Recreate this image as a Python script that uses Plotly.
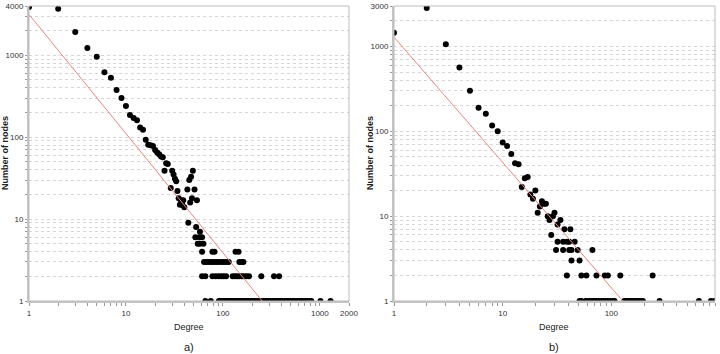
import numpy as np
import plotly.graph_objects as go

# ---------------- data ----------------
# panel a)
deg_a = [1, 2, 3, 4, 5, 6, 7, 8, 9, 10, 11, 12, 13, 14, 15, 16, 17, 18, 19, 20,
         21, 22, 23, 24, 25, 26, 27, 29, 30, 31, 32, 33, 34, 35, 36, 37, 38, 39, 40,
         43, 45, 47, 49, 46, 48, 51, 54, 44, 53, 58,
         52, 57, 61, 55, 58, 63,
         61, 78, 82, 135, 145,
         64, 68, 72, 76, 80, 85, 90, 96, 102, 108, 115, 148, 155, 163,
         61, 66, 78, 84, 90, 96, 102, 108, 126, 133, 140, 148, 156, 165, 175, 186, 249, 337, 380,
         66, 75, 91, 94, 97, 100, 104, 108, 112, 116, 121, 126, 131, 137, 143, 150, 157, 164,
         172, 180, 189, 198, 208, 218, 229, 240, 252, 265, 278, 292, 307, 322, 338, 355, 373,
         392, 412, 433, 455, 478, 502, 527, 553, 581, 610, 640, 672, 706, 741, 778, 817, 1015, 1290]
cnt_a = [3900, 3700, 1925, 1230, 960, 623, 531, 377, 301, 240, 187, 171, 161, 131, 123, 93, 81, 80, 78, 70,
         65, 62, 58, 57, 39, 48, 47, 24, 39, 35, 31, 29, 22, 18, 15, 17, 15, 17, 14,
         23, 30, 33, 39, 16, 18, 23, 17, 9, 8, 7,
         6, 6, 6, 5, 5, 5,
         4, 4, 4, 4, 4,
         3, 3, 3, 3, 3, 3, 3, 3, 3, 3, 3, 3, 3, 3,
         2, 2, 2, 2, 2, 2, 2, 2, 2, 2, 2, 2, 2, 2, 2, 2, 2, 2, 2,
         1, 1, 1, 1, 1, 1, 1, 1, 1, 1, 1, 1, 1, 1, 1, 1, 1, 1,
         1, 1, 1, 1, 1, 1, 1, 1, 1, 1, 1, 1, 1, 1, 1, 1, 1, 1, 1,
         1, 1, 1, 1, 1, 1, 1, 1, 1, 1, 1, 1, 1, 1, 1, 1, 1, 1]

# panel b)
deg_b = [1, 2, 3, 4, 5, 6, 7, 8, 9, 10, 11, 12, 13, 14, 15, 16, 17, 18, 19, 20,
         21, 22, 23, 24, 25, 26, 27, 28, 29, 30, 32, 34, 37, 42,
         32, 36, 39, 41, 46,
         31, 36, 41, 43, 49, 67,
         43, 51,
         39, 53, 59, 73, 87, 93, 121, 240,
         51, 53, 58, 61, 64, 67, 70, 73, 76, 80, 84, 88, 92, 97, 102, 107,
         132, 137, 142, 148, 155, 162, 170, 178, 187, 195, 278, 640, 826, 890]
cnt_b = [1450, 2850, 1065, 566, 301, 190, 161, 117, 100, 74, 67, 54, 42, 41, 22, 28, 29, 18, 16, 20,
         11, 13, 15, 14, 14, 10, 9, 6, 10, 11, 8, 9, 7, 7,
         5, 5, 5, 5, 5,
         4, 4, 4, 4, 4, 4,
         3, 3,
         2, 2, 2, 2, 2, 2, 2, 2,
         1, 1, 1, 1, 1, 1, 1, 1, 1, 1, 1, 1, 1, 1, 1, 1,
         1, 1, 1, 1, 1, 1, 1, 1, 1, 1, 1, 1, 1, 1]

# power-law fits  y = c * x^k
fit_a_c, fit_a_k = 3160.0, -1.455
fit_b_c, fit_b_k = 1290.0, -1.477

x_ticks_a = [1, 10, 100, 1000, 2000]
x_ticks_b = [1, 10, 100, 900]
y_ticks_a = [1, 10, 100, 1000, 4000]
y_ticks_b = [1, 10, 100, 1000, 3000]
x_max_a, y_max_a = 2000, 4000
x_max_b, y_max_b = 900, 3000

# ---------------- helpers ----------------
FONT = "Liberation Sans Narrow, Arial Narrow, Liberation Sans, Arial, sans-serif"


def log_minors(top):
    vals = []
    d = 1
    while d <= top:
        for m in range(1, 10):
            v = m * d
            if v <= top:
                vals.append(v)
        d *= 10
    return vals


def tick_spec(major, top):
    vals = sorted(set(log_minors(top)) | set(major))
    text = [str(v) if v in major else "" for v in vals]
    return vals, text


def fit_line(c, k):
    x_end = (1.0 / c) ** (1.0 / k)
    xs = np.array([1.0, x_end])
    return xs, c * xs ** k


fig = go.Figure()
fig.add_trace(go.Scatter(x=deg_a, y=cnt_a, mode="markers", xaxis="x", yaxis="y",
                         marker=dict(color="black", size=6), showlegend=False))
xa, ya = fit_line(fit_a_c, fit_a_k)
fig.add_trace(go.Scatter(x=xa, y=ya, mode="lines", xaxis="x", yaxis="y",
                         line=dict(color="#e8877f", width=1), showlegend=False))
fig.add_trace(go.Scatter(x=deg_b, y=cnt_b, mode="markers", xaxis="x2", yaxis="y2",
                         marker=dict(color="black", size=6), showlegend=False))
xb, yb = fit_line(fit_b_c, fit_b_k)
fig.add_trace(go.Scatter(x=xb, y=yb, mode="lines", xaxis="x2", yaxis="y2",
                         line=dict(color="#e8877f", width=1), showlegend=False))

W, H = 720, 354
ydom = [(H - 301) / H, (H - 6) / H]
tickfont = dict(family=FONT, size=8, color="#333333")

xva, xta = tick_spec(x_ticks_a, x_max_a)
xvb, xtb = tick_spec(x_ticks_b, x_max_b)
yva, yta = tick_spec(y_ticks_a, y_max_a)
yvb, ytb = tick_spec(y_ticks_b, y_max_b)

common_x = dict(type="log", showgrid=False, zeroline=False, ticks="outside", ticklen=3,
                tickcolor="#999999", tickfont=tickfont, showline=True, linecolor="#c4c4c4",
                linewidth=2, mirror=False, automargin=False)
common_y = dict(type="log", showgrid=True, gridcolor="#d6d6d6", griddash="dot", gridwidth=1,
                zeroline=False, ticks="outside", ticklen=2, tickcolor="#999999",
                tickfont=tickfont, showline=True, linecolor="#c4c4c4", linewidth=2,
                mirror=False, automargin=False)

fig.update_layout(
    width=W, height=H, margin=dict(l=0, r=0, t=0, b=0),
    paper_bgcolor="white", plot_bgcolor="white",
    xaxis=dict(domain=[29 / W, 349 / W], range=[0, np.log10(x_max_a)],
               tickvals=xva, ticktext=xta, anchor="y", **common_x),
    yaxis=dict(domain=ydom, range=[0, np.log10(y_max_a)],
               tickvals=yva, ticktext=yta, anchor="x", **common_y),
    xaxis2=dict(domain=[394 / W, 715 / W], range=[0, np.log10(x_max_b)],
                tickvals=xvb, ticktext=xtb, anchor="y2", **common_x),
    yaxis2=dict(domain=ydom, range=[0, np.log10(y_max_b)],
                tickvals=yvb, ticktext=ytb, anchor="x2", **common_y),
)

# plot-area frames
for xr in ("x", "x2"):
    yr = "y" if xr == "x" else "y2"
    fig.add_shape(type="rect", xref=f"{xr} domain", yref=f"{yr} domain",
                  x0=0, x1=1, y0=0, y1=1, line=dict(color="#bcbcbc", width=1), layer="above")

ann_font = dict(family=FONT, size=9, color="#222222")
for xc, lab in ((189, "a)"), (554, "b)")):
    fig.add_annotation(text="Degree", x=xc / W, y=1 - 327 / H, xref="paper", yref="paper",
                       showarrow=False, font=ann_font, xanchor="center", yanchor="middle")
    fig.add_annotation(text=lab, x=xc / W, y=1 - 347 / H, xref="paper", yref="paper",
                       showarrow=False, font=dict(family=FONT, size=11, color="#222222"),
                       xanchor="center", yanchor="middle")
for xc in (5, 370):
    fig.add_annotation(text="<b>Number of nodes</b>", x=xc / W, y=1 - 153 / H, xref="paper",
                       yref="paper", showarrow=False, textangle=-90,
                       font=dict(family=FONT, size=9, color="#222222"),
                       xanchor="center", yanchor="middle")

fig.write_html("out.html", config={"displayModeBar": False},
               post_script="document.body.style.margin='0';document.body.style.overflow='hidden';")
